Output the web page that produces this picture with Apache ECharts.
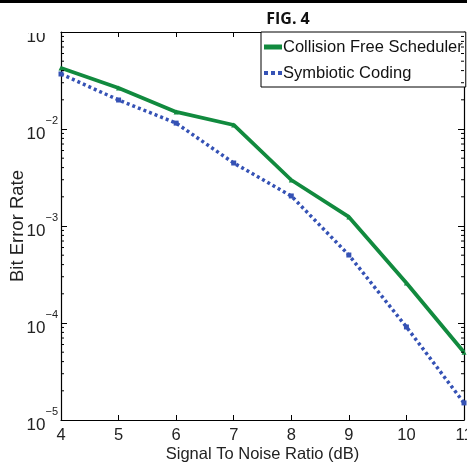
<!DOCTYPE html>
<html><head><meta charset="utf-8">
<script src="https://cdn.jsdelivr.net/npm/echarts@6/dist/echarts.min.js"></script>
<style>html,body{margin:0;padding:0;background:#fff}#c{width:467px;height:466px}</style>
</head><body><div id="c"></div>
<script>
var snr = [4, 5, 6, 7, 8, 9, 10, 11];
var collisionFree = [0.0426, 0.0265, 0.0150, 0.0110, 0.00298, 0.00124, 0.000258, 0.000050];
var symbiotic = [0.0369, 0.0199, 0.0115, 0.00446, 0.00204, 0.000502, 0.000091, 0.000015];

var chart = echarts.init(document.getElementById('c'), null, {renderer: 'canvas'});
var FONT = 'Liberation Sans';
var GREEN = '#118a3e', BLUE = '#3552b5';
function pairs(xs, ys){ return xs.map(function(x,i){return [x, ys[i]];}); }
var minor = [];
for (var d = -5; d < -1; d++) for (var k = 2; k <= 9; k++) minor.push([k * Math.pow(10, d)]);

var axisLineStyle = {color: '#000', width: 1.2};
var option = {
  backgroundColor: '#fff',
  animation: false,
  title: {text: 'FIG. 4', left: 283, top: 6, textAlign: 'center',
    textStyle: {fontFamily: 'Open Sans', fontWeight: 'bold', fontSize: 16, color: '#111'}},
  grid: {left: 61, right: 3, top: 32, bottom: 46, outerBoundsMode: 'none', containLabel: false},
  legend: {
    left: 261, top: 32, orient: 'vertical', itemGap: 8, itemWidth: 18, itemHeight: 5,
    backgroundColor: '#fff', borderColor: '#000', borderWidth: 1, borderRadius: 0,
    padding: [6, 3, 5, 3],
    textStyle: {fontFamily: FONT, fontSize: 16.5, color: '#111', padding: [0,0,0,-4], lineHeight: 18},
    data: [
      {name: 'Collision Free Scheduler', icon: 'rect', itemStyle: {color: GREEN}},
      {name: 'Symbiotic Coding', icon: 'path://M0,0h4v4h-4z M7,0h4v4h-4z M14,0h4v4h-4z', itemStyle: {color: BLUE}}
    ]
  },
  xAxis: [{
    type: 'value', min: 4, max: 11, interval: 1, position: 'bottom',
    name: 'Signal To Noise Ratio (dB)', nameLocation: 'middle', nameGap: 26, nameMoveOverlap: false,
    nameTextStyle: {fontFamily: FONT, fontSize: 16.5, color: '#222'},
    axisLine: {lineStyle: axisLineStyle}, axisTick: {inside: true, length: 5, lineStyle: {color:'#000'}},
    axisLabel: {fontFamily: FONT, fontSize: 16.5, color: '#222', margin: 7, showMaxLabel: true},
    splitLine: {show: false}
  }, {
    type: 'value', min: 4, max: 11, interval: 1, position: 'top',
    axisLine: {lineStyle: axisLineStyle}, axisTick: {inside: true, length: 5, lineStyle: {color:'#000'}},
    axisLabel: {show: false}, splitLine: {show: false}
  }],
  yAxis: [{
    type: 'log', logBase: 10, min: 1e-5, max: 1e-1, position: 'left',
    name: 'Bit Error Rate', nameLocation: 'middle', nameGap: 34, nameRotate: 90, nameMoveOverlap: false,
    nameTextStyle: {fontFamily: FONT, fontSize: 18.5, color: '#222'},
    axisLine: {show: true, lineStyle: axisLineStyle}, axisTick: {show: true, inside: true, length: 6, lineStyle: {color:'#000'}},
    axisLabel: {
      margin: 3,
      formatter: function(v){ var e = Math.round(Math.log10(v)); return '{b|10}{s|−' + (-e) + '}'; },
      rich: {b: {fontFamily: FONT, fontSize: 17, color: '#222', verticalAlign: 'bottom', padding: [10,0,0,0]},
             s: {fontFamily: FONT, fontSize: 11, color: '#222', verticalAlign: 'top', padding: [0,0,10,0]}}
    },
    splitLine: {show: false}
  }, {
    type: 'log', logBase: 10, min: 1e-5, max: 1e-1, position: 'right',
    axisLine: {show: true, lineStyle: axisLineStyle}, axisTick: {show: true, inside: true, length: 6, lineStyle: {color:'#000'}},
    axisLabel: {show: false}, splitLine: {show: false}
  }],
  series: [{
    name: 'Collision Free Scheduler', type: 'line', data: pairs(snr, collisionFree),
    symbol: 'triangle', symbolSize: 5, showSymbol: true,
    lineStyle: {color: GREEN, width: 3.8}, itemStyle: {color: GREEN}, z: 3
  }, {
    name: 'Symbiotic Coding', type: 'line', data: pairs(snr, symbiotic),
    symbol: 'rect', symbolSize: 5,
    lineStyle: {color: BLUE, width: 3.5, type: [3, 3]}, itemStyle: {color: BLUE}, z: 2
  }, {
    type: 'custom', data: minor, silent: true, z: 5,
    renderItem: function(params, api){
      var yv = api.value(0);
      var p = api.coord([4, yv]);
      var cs = params.coordSys;
      var y = p[1];
      return {type: 'group', children: [
        {type: 'line', shape: {x1: cs.x, y1: y, x2: cs.x + 3, y2: y}, style: {stroke: '#000', lineWidth: 1}},
        {type: 'line', shape: {x1: cs.x + cs.width, y1: y, x2: cs.x + cs.width - 3, y2: y}, style: {stroke: '#000', lineWidth: 1}}
      ]};
    },
    encode: {x: -1, y: 0}
  }],
  graphic: [
    {type: 'rect', left: 0, top: 3, shape: {width: 58, height: 30}, style: {fill: '#fff'}, z: 100},
    {type: 'rect', left: 0, top: 0, shape: {width: 467, height: 3}, style: {fill: '#000'}, z: 100}
  ]
};
chart.setOption(option);
</script></body></html>
